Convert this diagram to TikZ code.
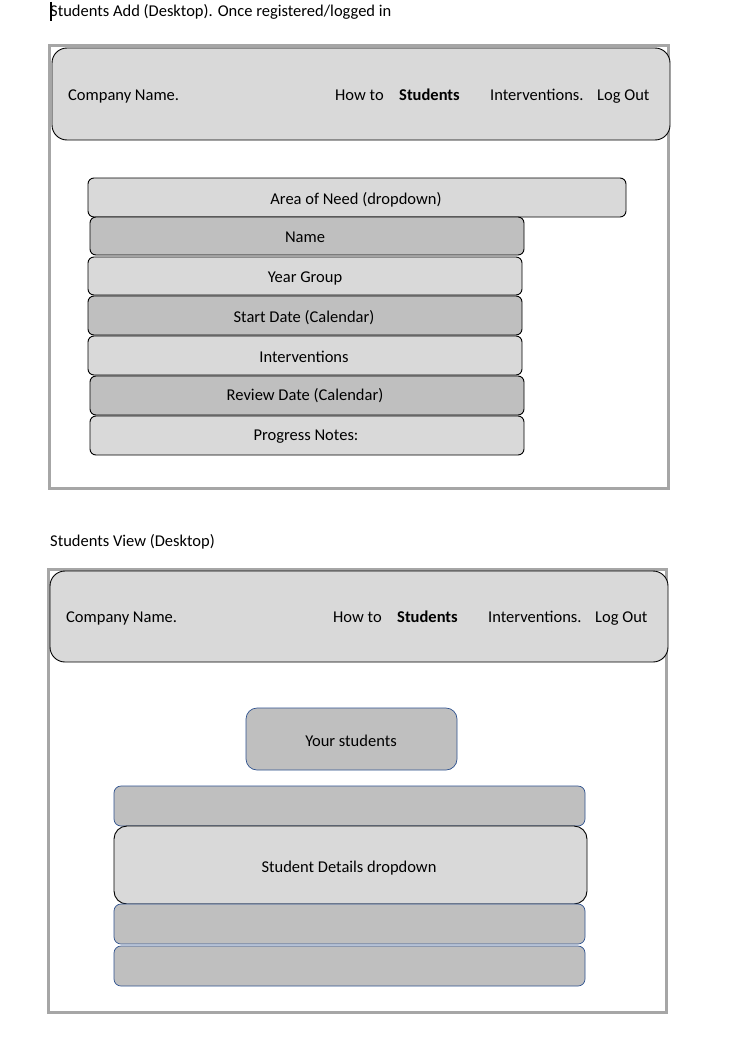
\documentclass[tikz,border=0pt]{standalone}
\usepackage{fontspec}
\setmainfont{Carlito}
\definecolor{lightfill}{HTML}{D9D9D9}
\definecolor{darkfill}{HTML}{BFBFBF}
\definecolor{framegray}{HTML}{A6A6A6}
\definecolor{edgeblue}{HTML}{2F528F}
\begin{document}
\begin{tikzpicture}[x=1pt,y=-1pt,
  every node/.style={font=\fontsize{16.5}{19}\selectfont, inner sep=0pt},
  frame/.style={draw=framegray, line width=3pt},
  header/.style={draw=black, fill=lightfill, line width=0.9pt, rounded corners=15pt},
  lightbox/.style={draw=black, fill=lightfill, line width=0.9pt, rounded corners=6pt},
  darkbox/.style={draw=black, fill=darkfill, line width=0.9pt, rounded corners=6pt},
  bluebox/.style={draw=edgeblue, fill=darkfill, line width=0.7pt, rounded corners=7pt},
  lbl/.style={anchor=base west},
  clbl/.style={anchor=base}
]
\useasboundingbox (0,0) rectangle (738,1038);
\fill[white] (0,0) rectangle (738,1038);

% ---------- Top: Students Add ----------
\node[lbl] (title1) at (50,16.5) {Students Add (Desktop). Once registered/logged in};
\coordinate (cur1) at (51,2);
\coordinate (cur2) at (51,21);
\draw[black, line width=1.2pt] (cur1) -- (cur2);

\draw[frame] (49,46) rectangle (668,488);
\draw[header] (52,48) rectangle (670,140);
\node[lbl] (cn1) at (68,100.5) {Company Name.};
\node[lbl] (how1) at (335,100.5) {How to};
\node[lbl] (stu1) at (399,100.5) {\bfseries Students};
\node[lbl] (int1) at (490,100.5) {Interventions.};
\node[lbl] (log1) at (597,100.5) {Log Out};

\draw[lightbox] (88,178) rectangle (626,217);
\node[clbl] (aon) at (356,204) {Area of Need (dropdown)};
\draw[darkbox] (90,217) rectangle (524,255);
\node[clbl] (nm) at (305,242.5) {Name};
\draw[lightbox] (88,257) rectangle (522,295);
\node[clbl] (yg) at (305,282.5) {Year Group};
\draw[darkbox] (88,296) rectangle (522,335);
\node[clbl] (sd) at (304,322.5) {Start Date (Calendar)};
\draw[lightbox] (88,336) rectangle (522,375);
\node[clbl] (iv) at (304,362.5) {Interventions};
\draw[darkbox] (90,376) rectangle (524,415);
\node[clbl] (rd) at (305,400.5) {Review Date (Calendar)};
\draw[lightbox] (90,416) rectangle (524,455);
\node[clbl] (pn) at (306,440.5) {Progress Notes:};

% ---------- Bottom: Students View ----------
\node[lbl] (title2) at (50,546.5) {Students View (Desktop)};
\draw[frame] (48,569) rectangle (666,1012);
\draw[header] (50,571) rectangle (668,662);
\node[lbl] (cn2) at (66,622.5) {Company Name.};
\node[lbl] (how2) at (333,622.5) {How to};
\node[lbl] (stu2) at (397,622.5) {\bfseries Students};
\node[lbl] (int2) at (488,622.5) {Interventions.};
\node[lbl] (log2) at (595,622.5) {Log Out};

\draw[bluebox, rounded corners=11pt] (246,708) rectangle (457,770);
\node[clbl] (ys) at (351,746.5) {Your students};
\draw[bluebox] (114,786) rectangle (585,826);
\draw[lightbox, rounded corners=13pt] (114,826) rectangle (587,904);
\node[clbl] (sdd) at (349,872.5) {Student Details dropdown};
\draw[bluebox] (114,904) rectangle (585,944);
\draw[bluebox] (114,946) rectangle (585,986);
\end{tikzpicture}
\end{document}
